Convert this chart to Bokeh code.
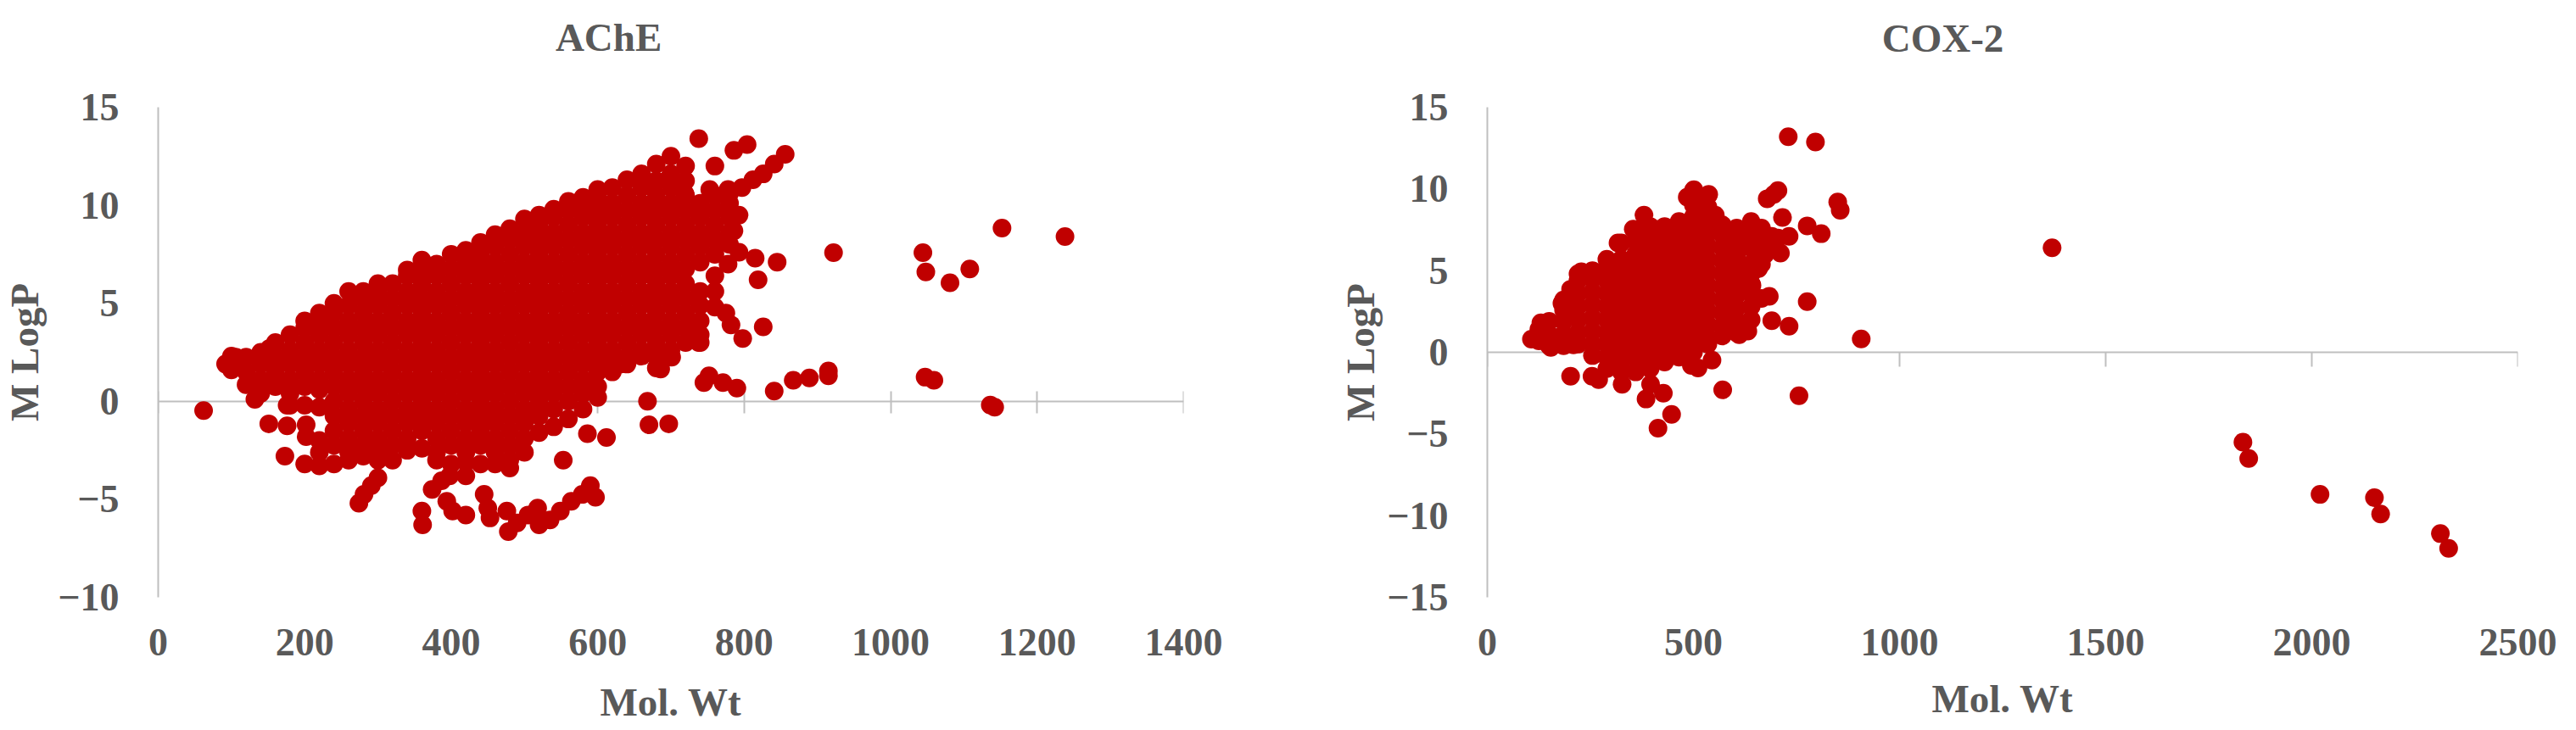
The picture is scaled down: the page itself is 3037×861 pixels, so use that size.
from bokeh.plotting import figure
from bokeh.layouts import row
from bokeh.models import LinearAxis, FixedTicker, Range1d, Label
from bokeh.embed import file_html
from bokeh.resources import INLINE

# Values: dense body as (Mol. Wt, [M LogP ...]) columns
ACHE_BODY = [
    (100, [1.6, 2.3]),
    (120, [0.85, 1.5, 2.25]),
    (140, [0.4, 1.1, 1.9, 2.5]),
    (160, [0.75, 1.5, 2.25, 3.0]),
    (180, [-0.2, 0.4, 1.1, 1.9, 2.6, 3.4]),
    (200, [-3.2, -0.2, 0.75, 1.5, 2.25, 3.0, 3.75, 4.1]),
    (220, [-3.3, -2.6, -2.0, -0.3, 0.6, 1.1, 1.9, 2.6, 3.4, 4.1, 4.5]),
    (240, [-3.2, -2.25, -1.5, -0.75, 0.0, 0.75, 1.5, 2.25, 3.0, 3.75, 4.5, 5.0]),
    (260, [-3.0, -2.6, -1.9, -1.1, -0.4, 0.4, 1.1, 1.9, 2.6, 3.4, 4.1, 4.9, 5.6]),
    (280, [-2.8, -2.25, -1.5, -0.75, 0.0, 0.75, 1.5, 2.25, 3.0, 3.75, 4.5, 5.25, 5.6]),
    (300, [-3.0, -2.6, -1.9, -1.1, -0.4, 0.4, 1.1, 1.9, 2.6, 3.4, 4.1, 4.9, 5.6, 6.0]),
    (320, [-3.0, -2.25, -1.5, -0.75, 0.0, 0.75, 1.5, 2.25, 3.0, 3.75, 4.5, 5.25, 6.0]),
    (340, [-2.5, -1.9, -1.1, -0.4, 0.4, 1.1, 1.9, 2.6, 3.4, 4.1, 4.9, 5.6, 6.4, 6.7]),
    (360, [-2.4, -1.5, -0.75, 0.0, 0.75, 1.5, 2.25, 3.0, 3.75, 4.5, 5.25, 6.0, 6.75, 7.2]),
    (380, [-3.0, -2.6, -1.9, -1.1, -0.4, 0.4, 1.1, 1.9, 2.6, 3.4, 4.1, 4.9, 5.6, 6.4, 7.0]),
    (400, [-3.2, -2.25, -1.5, -0.75, 0.0, 0.75, 1.5, 2.25, 3.0, 3.75, 4.5, 5.25, 6.0, 6.75, 7.5]),
    (420, [-3.8, -3.1, -2.6, -1.9, -1.1, -0.4, 0.4, 1.1, 1.9, 2.6, 3.4, 4.1, 4.9, 5.6, 6.4, 7.1, 7.7]),
    (440, [-3.2, -2.25, -1.5, -0.75, 0.0, 0.75, 1.5, 2.25, 3.0, 3.75, 4.5, 5.25, 6.0, 6.75, 7.5, 8.1]),
    (460, [-3.2, -2.6, -1.9, -1.1, -0.4, 0.4, 1.1, 1.9, 2.6, 3.4, 4.1, 4.9, 5.6, 6.4, 7.1, 7.9, 8.5]),
    (480, [-3.4, -3.0, -2.25, -1.5, -0.75, 0.0, 0.75, 1.5, 2.25, 3.0, 3.75, 4.5, 5.25, 6.0, 6.75, 7.5, 8.25, 8.8]),
    (500, [-2.6, -1.9, -1.1, -0.4, 0.4, 1.1, 1.9, 2.6, 3.4, 4.1, 4.9, 5.6, 6.4, 7.1, 7.9, 8.6, 9.3]),
    (520, [-1.6, -0.75, 0.0, 0.75, 1.5, 2.25, 3.0, 3.75, 4.5, 5.25, 6.0, 6.75, 7.5, 8.25, 9.0, 9.5]),
    (540, [-1.3, -0.4, 0.4, 1.1, 1.9, 2.6, 3.4, 4.1, 4.9, 5.6, 6.4, 7.1, 7.9, 8.6, 9.4, 9.8]),
    (560, [-0.9, 0.0, 0.75, 1.5, 2.25, 3.0, 3.75, 4.5, 5.25, 6.0, 6.75, 7.5, 8.25, 9.0, 9.75, 10.2]),
    (580, [-0.4, 0.4, 1.1, 1.9, 2.6, 3.4, 4.1, 4.9, 5.6, 6.4, 7.1, 7.9, 8.6, 9.4, 10.1, 10.4]),
    (600, [0.2, 0.75, 1.5, 2.25, 3.0, 3.75, 4.5, 5.25, 6.0, 6.75, 7.5, 8.25, 9.0, 9.75, 10.5, 10.8]),
    (620, [1.5, 1.9, 2.6, 3.4, 4.1, 4.9, 5.6, 6.4, 7.1, 7.9, 8.6, 9.4, 10.1, 10.9]),
    (640, [1.9, 2.25, 3.0, 3.75, 4.5, 5.25, 6.0, 6.75, 7.5, 8.25, 9.0, 9.75, 10.5, 11.3]),
    (660, [2.3, 2.6, 3.4, 4.1, 4.9, 5.6, 6.4, 7.1, 7.9, 8.6, 9.4, 10.1, 10.9, 11.6]),
    (680, [1.7, 2.3, 3.0, 3.75, 4.5, 5.25, 6.0, 6.75, 7.5, 8.25, 9.0, 9.75, 10.5, 11.25, 12.1]),
    (700, [2.3, 2.6, 3.4, 4.1, 4.9, 5.6, 6.4, 7.1, 7.9, 8.6, 9.4, 10.1, 10.9, 11.6, 12.5]),
    (720, [3.0, 3.75, 4.5, 5.25, 6.0, 6.75, 7.5, 8.25, 9.0, 9.75, 10.5, 11.25, 12.0]),
    (740, [3.0, 3.4, 4.1, 4.9, 5.6, 7.1, 7.9, 8.6, 9.4, 10.1]),
    (760, [4.8, 5.6, 6.4, 7.5, 8.25, 9.0, 9.75, 10.5]),
    (780, [8.0, 8.6, 9.4, 10.1, 10.6]),
]
# Separately readable marks
ACHE_MW = [62, 92, 106, 132, 152, 176, 151, 176, 202, 202, 173,
           274, 281, 291, 300, 360, 361, 374, 387, 398, 394, 402, 420, 445, 450, 453,
           476, 478, 490, 505, 518, 520, 535, 549, 564, 579, 590, 597,
           553, 586, 612, 668, 670, 697, 631, 686, 701, 738,
           745, 752, 771, 790, 841, 867, 889, 915, 915,
           735, 775, 782, 798, 826, 819, 845, 815, 793, 778, 786, 793, 764,
           738, 760, 719, 786, 804, 856, 841, 826, 812, 797, 778, 753,
           922, 1044, 1048, 1081, 1108, 1152, 1238, 1047, 1059, 1136, 1142]
ACHE_LOGP = [-0.47, 1.9, 2.25, 0.1, 2.7, -0.2, -1.15, -1.25, -1.2, -1.8, -2.8,
             -5.2, -4.75, -4.3, -3.9, -5.6, -6.3, -4.5, -4.05, -3.8, -5.1, -5.6, -5.8, -4.75, -5.45, -5.95,
             -5.6, -6.65, -6.2, -5.8, -5.45, -6.3, -6.05, -5.6, -5.1, -4.75, -4.3, -4.9,
             -3.0, -1.65, -1.85, 0.0, -1.2, -1.15, 1.9, 1.65, 2.25, 3.0,
             0.95, 1.3, 0.95, 0.67, 0.52, 1.07, 1.19, 1.55, 1.3,
             3.5, 4.5, 3.9, 3.2, 3.8, 6.2, 7.1, 7.3, 7.6, 7.0, 8.7, 9.5, 8.1,
             13.4, 12.0, 10.6, 12.8, 13.1, 12.6, 12.1, 11.6, 11.3, 10.9, 10.8, 10.8,
             7.58, 7.58, 6.6, 6.05, 6.75, 8.84, 8.4, 1.23, 1.07, -0.19, -0.3]

COX_BODY = [
    (125, [0.7, 1.4]),
    (150, [0.4, 1.1, 1.9]),
    (185, [0.4, 1.1, 1.9, 2.6, 3.2]),
    (220, [0.5, 1.2, 2.0, 2.8, 3.6, 4.4, 4.8]),
    (255, [-0.2, 0.5, 1.3, 2.1, 2.9, 3.7, 4.5, 5.0]),
    (290, [-1.0, -0.3, 0.5, 1.2, 2.0, 2.8, 3.6, 4.4, 5.2, 5.7]),
    (325, [-1.2, -0.6, 0.1, 0.9, 1.7, 2.5, 3.3, 4.1, 4.9, 5.7, 6.7]),
    (360, [-1.2, -0.3, 0.5, 1.2, 2.0, 2.8, 3.6, 4.4, 5.2, 6.0, 6.8, 7.5]),
    (395, [-1.0, -0.6, 0.1, 0.9, 1.7, 2.5, 3.3, 4.1, 4.9, 5.7, 6.5, 7.3, 7.7]),
    (430, [-0.6, 0.1, 0.5, 1.2, 2.0, 2.8, 3.6, 4.4, 5.2, 6.0, 6.8, 7.7]),
    (465, [-0.3, 0.5, 0.9, 1.7, 2.5, 3.3, 4.1, 4.9, 5.7, 6.5, 7.3, 8.0]),
    (500, [0.0, 0.7, 1.2, 2.0, 2.8, 3.6, 4.4, 5.2, 6.0, 6.8, 7.6, 8.3, 9.0, 9.9]),
    (535, [0.5, 0.9, 1.7, 2.5, 3.3, 4.1, 4.9, 5.7, 6.5, 7.3, 8.1, 8.9, 9.6]),
    (570, [1.0, 1.6, 2.4, 3.2, 4.0, 4.8, 5.6, 6.4, 7.2, 7.8]),
    (605, [1.2, 1.9, 2.7, 3.5, 4.3, 5.1, 5.9, 6.7, 7.6]),
    (640, [2.0, 2.8, 3.6, 4.2, 4.8, 5.4, 6.4, 7.2, 8.0]),
    (665, [3.3, 5.4, 6.2, 7.0, 7.6]),
    (690, [6.6, 7.1]),
]
COX_MW = [107, 130, 154, 181, 202, 228, 209,
          730, 796, 850, 856, 907, 776, 756, 810, 776, 732, 690, 716, 705, 679, 695,
          571, 414, 447, 385, 427, 396, 202, 254, 270, 327, 511, 545, 495, 632, 611, 684,
          732, 711, 658, 380, 354, 317, 485, 501, 537, 553, 642, 674, 705,
          1370, 1833, 1847, 2020, 2152, 2167, 2312, 2332]
COX_LOGP = [0.8, 1.8, 0.3, 3.0, 3.86, 4.93, 0.45,
            13.2, 12.87, 9.2, 8.7, 0.82, 3.1, -2.66, 7.26, 7.74, 1.6, 1.93, 8.25, 9.9, 9.4, 9.67,
            -2.3, -4.65, -3.8, -2.86, -2.5, -1.96, -1.47, -1.47, -1.67, -1.96, -0.96, -0.48, -0.8, 1.3, 1.08, 3.43,
            7.1, 6.07, 5.13, 8.4, 7.54, 6.7, 9.5, 9.95, 9.67, 8.4, 4.1, 6.0, 7.0,
            6.4, -5.5, -6.5, -8.7, -8.9, -9.9, -11.1, -12.0]

ACHE_X_TICKS = [0, 200, 400, 600, 800, 1000, 1200, 1400]
ACHE_Y_TICKS = [-10, -5, 0, 5, 10, 15]
COX_X_TICKS = [0, 500, 1000, 1500, 2000, 2500]
COX_Y_TICKS = [-15, -10, -5, 0, 5, 10, 15]

RED = "#C00000"
GREY = "#BFBFBF"
TEXT = "#595959"
SERIF = "Liberation Serif"


def flatten(body, mw, logp):
    xs = [m for m, col in body for _ in col] + list(mw)
    ys = [v for _, col in body for v in col] + list(logp)
    return xs, ys


def panel(title, title_pos, body, mw, logp, xt, yt, xr, yr, size, borders, tick_in, tick_out, ylabel_standoff, xlabel_standoff):
    w, h = size
    left, right, top, bottom = borders
    p = figure(width=w, height=h, output_backend="svg", toolbar_location=None,
               x_range=Range1d(*xr), y_range=Range1d(*yr),
               x_axis_type=None, y_axis_type=None,
               min_border_left=left, min_border_right=right, min_border_top=top, min_border_bottom=bottom,
               background_fill_color="white", border_fill_color="white", outline_line_color=None)
    p.grid.visible = False

    xs, ys = flatten(body, mw, logp)
    p.scatter(xs, ys, size=22, color=RED, line_color=None)

    minus = {v: (f"\u2212{abs(v)}" if v < 0 else str(v)) for v in yt}

    low = LinearAxis(ticker=FixedTicker(ticks=xt), axis_line_color=None,
                     major_tick_line_color=None, minor_tick_line_color=None,
                     major_label_text_font=SERIF, major_label_text_font_size="46px",
                     major_label_text_font_style="bold", major_label_text_color=TEXT,
                     major_label_standoff=31,
                     axis_label="Mol. Wt", axis_label_text_font=SERIF,
                     axis_label_text_font_size="47px", axis_label_text_font_style="bold",
                     axis_label_text_color=TEXT, axis_label_standoff=xlabel_standoff)
    p.add_layout(low, "below")

    zero = LinearAxis(ticker=FixedTicker(ticks=xt), fixed_location=0, level="underlay",
                      axis_line_color=GREY, axis_line_width=2,
                      major_tick_line_color=GREY, major_tick_line_width=2,
                      major_tick_in=tick_in, major_tick_out=tick_out,
                      minor_tick_line_color=None,
                      major_label_overrides={t: "" for t in xt})
    p.add_layout(zero, "below")

    yaxis = LinearAxis(ticker=FixedTicker(ticks=yt),
                       axis_line_color=GREY, axis_line_width=2,
                       major_tick_line_color=None, minor_tick_line_color=None,
                       major_label_overrides=minus,
                       major_label_text_font=SERIF, major_label_text_font_size="46px",
                       major_label_text_font_style="bold", major_label_text_color=TEXT,
                       major_label_standoff=40,
                       axis_label="M LogP", axis_label_text_font=SERIF,
                       axis_label_text_font_size="47px", axis_label_text_font_style="bold",
                       axis_label_text_color=TEXT, axis_label_standoff=ylabel_standoff)
    p.add_layout(yaxis, "left")

    p.add_layout(Label(x=title_pos[0], y=title_pos[1], text=title, text_align="center",
                       text_baseline="middle", text_font=SERIF, text_font_size="47px",
                       text_font_style="bold", text_color=TEXT), "above")
    return p


p1 = panel("AChE", (615, 18.56), ACHE_BODY, ACHE_MW, ACHE_LOGP, ACHE_X_TICKS, ACHE_Y_TICKS,
           (0, 1400), (-10, 15), (1508, 861), (186, 113, 126, 157), 12, 14, 10, 26)
p2 = panel("COX-2", (1105, 19.25), COX_BODY, COX_MW, COX_LOGP, COX_X_TICKS, COX_Y_TICKS,
           (0, 2500), (-15, 15), (1521, 861), (245, 61, 126, 154), 0, 17, 2, 22)

open("out.html", "w").write(file_html(row(p1, p2, spacing=0), INLINE))
